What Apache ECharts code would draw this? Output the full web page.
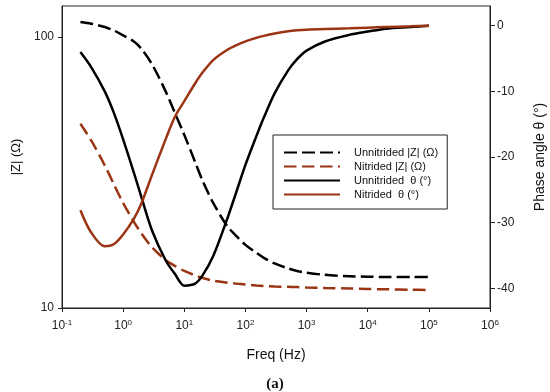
<!DOCTYPE html>
<html>
<head>
<meta charset="utf-8">
<script src="https://cdn.jsdelivr.net/npm/echarts@6/dist/echarts.min.js"></script>
<style>html,body{margin:0;padding:0;background:#fff;}#c{width:550px;height:392px;}</style>
</head>
<body>
<div id="c"></div>
<script>
const freq = [0.2, 0.3, 0.5, 0.7, 1, 1.5, 2, 3, 5, 7, 10, 15, 20, 30, 50, 70, 100, 150, 200, 300, 500, 700, 1000, 2000, 5000, 10000, 20000, 50000, 100000];
const unnitridedZ = [113.5, 111.9, 108.8, 105.7, 101.3, 96.1, 90.2, 78.9, 62.7, 52.5, 43.5, 34.6, 29.4, 24.3, 20.1, 18.5, 17.1, 16.0, 15.3, 14.6, 14.0, 13.7, 13.5, 13.25, 13.1, 13.05, 13.0, 13.0, 13.0];
const nitridedZ = [47.8, 41.5, 33.6, 28.7, 24.4, 20.8, 18.8, 16.7, 15.0, 14.3, 13.7, 13.2, 12.9, 12.6, 12.4, 12.3, 12.2, 12.1, 12.05, 12.0, 11.97, 11.95, 11.9, 11.85, 11.8, 11.75, 11.72, 11.68, 11.65];
const unnitridedTheta = [-4.0, -6.3, -10.0, -13.2, -17.3, -22.4, -26.2, -31.3, -35.8, -37.8, -39.6, -39.3, -38.0, -35.0, -29.5, -25.5, -21.2, -16.9, -14.0, -10.3, -6.8, -5.1, -3.8, -2.4, -1.4, -0.9, -0.45, -0.2, 0];
const nitridedTheta = [-28.1, -31.5, -33.6, -33.3, -31.8, -29.4, -27.0, -22.6, -17.2, -13.9, -11.5, -8.8, -7.1, -5.2, -3.7, -3.0, -2.4, -1.85, -1.55, -1.2, -0.85, -0.7, -0.6, -0.5, -0.4, -0.3, -0.2, -0.1, 0];
const seriesNames = ['Unnitrided |Z| (\u03A9)', 'Nitrided |Z| (\u03A9)', 'Unnitrided  \u03B8 (\u00B0)', 'Nitrided  \u03B8 (\u00B0)'];
const zTicks = [10, 100];
const thetaTicks = [-40, -30, -20, -10, 0];

const BROWN = '#9a3413';
const FONT = 'Liberation Sans, Arial, sans-serif';
const pair = (ys) => freq.map((f, i) => [f, ys[i]]);

const chart = echarts.init(document.getElementById('c'), null, {renderer: 'canvas'});
chart.setOption({
  animation: false,
  backgroundColor: '#fff',
  grid: {left: 62, right: 60, top: 6, bottom: 84, show: true, borderColor: '#222', borderWidth: 1,
         backgroundColor: 'transparent', containLabel: false, outerBoundsMode: 'none'},
  legend: {
    left: 273, top: 135, orient: 'vertical',
    itemWidth: 56, itemHeight: 10, itemGap: 3,
    padding: [12, 9, 9, 10],
    borderColor: '#222', borderWidth: 1, backgroundColor: '#fff',
    itemStyle: {opacity: 0},
    textStyle: {fontFamily: FONT, fontSize: 11, lineHeight: 10, color: '#111', padding: [0, 0, 0, 9]},
    data: seriesNames
  },
  xAxis: {
    type: 'log', logBase: 10, min: 0.1, max: 1e6, interval: 1,
    name: 'Freq (Hz)', nameLocation: 'middle', nameGap: 40,
    nameTextStyle: {fontFamily: FONT, fontSize: 14, color: '#111'},
    axisLine: {onZero: false, lineStyle: {color: '#222', width: 1}},
    axisTick: {inside: false, length: 4, lineStyle: {color: '#222'}},
    splitLine: {show: false},
    axisLabel: {
      margin: 11, color: '#222', fontFamily: FONT, fontSize: 12,
      formatter: (v) => '10{s|' + Math.round(Math.log10(v)) + '}',
      rich: {s: {fontSize: 8, verticalAlign: 'top', padding: [0, 0, 6, 0], fontFamily: FONT, color: '#222'}}
    }
  },
  yAxis: [{
    type: 'log', logBase: 10, min: 10, max: 130, position: 'left',
    name: '|Z| (\u03A9)', nameLocation: 'middle', nameGap: 38, nameRotate: 90,
    nameTextStyle: {fontFamily: FONT, fontSize: 13, color: '#111'},
    axisLine: {show: true, onZero: false, lineStyle: {color: '#222', width: 1}},
    axisTick: {show: true, length: 4, customValues: zTicks, lineStyle: {color: '#222'}},
    minorTick: {show: false},
    splitLine: {show: false},
    axisLabel: {customValues: zTicks, margin: 8, color: '#222', fontFamily: FONT, fontSize: 12}
  }, {
    type: 'value', min: -43, max: 3, position: 'right',
    name: 'Phase angle \u03B8 (\u00B0)', nameLocation: 'middle', nameGap: 43, nameRotate: 90,
    nameTextStyle: {fontFamily: FONT, fontSize: 14, color: '#111'},
    axisLine: {show: true, onZero: false, lineStyle: {color: '#222', width: 1}},
    axisTick: {show: true, length: 5, customValues: thetaTicks, lineStyle: {color: '#222'}},
    splitLine: {show: false},
    axisLabel: {customValues: thetaTicks, margin: 7, color: '#222', fontFamily: FONT, fontSize: 12}
  }],
  graphic: [{
    type: 'text', left: 'center', top: 377,
    style: {text: '(a)', fontFamily: 'Liberation Serif, serif', fontSize: 15, fontWeight: 'bold', fill: '#111'}
  }],
  series: [
    {name: seriesNames[0], type: 'line', yAxisIndex: 0, data: pair(unnitridedZ), smooth: 0.3, symbol: 'none',
     lineStyle: {color: '#000', width: 2.5, type: [13, 5]}, itemStyle: {color: '#000'}},
    {name: seriesNames[1], type: 'line', yAxisIndex: 0, data: pair(nitridedZ), smooth: 0.3, symbol: 'none',
     lineStyle: {color: BROWN, width: 2.5, type: [12.5, 5.5]}, itemStyle: {color: BROWN}},
    {name: seriesNames[2], type: 'line', yAxisIndex: 1, data: pair(unnitridedTheta), smooth: 0.3, symbol: 'none',
     lineStyle: {color: '#000', width: 2.5}, itemStyle: {color: '#000'}},
    {name: seriesNames[3], type: 'line', yAxisIndex: 1, data: pair(nitridedTheta), smooth: 0.3, symbol: 'none',
     lineStyle: {color: BROWN, width: 2.5}, itemStyle: {color: BROWN}}
  ]
});
</script>
</body>
</html>
